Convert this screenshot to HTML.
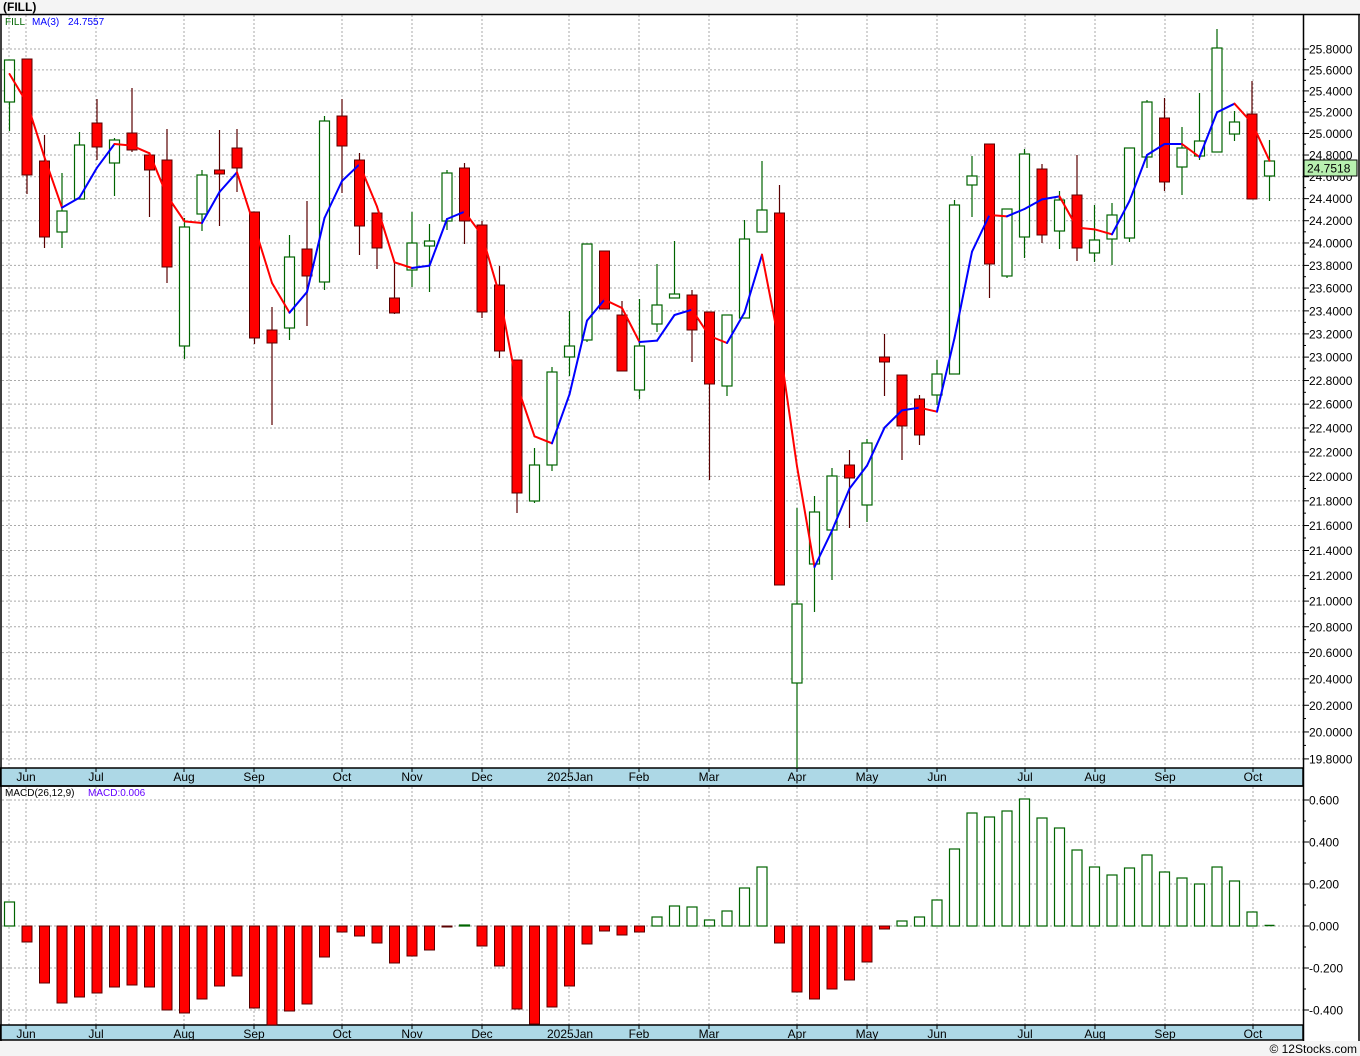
<!DOCTYPE html>
<html><head><meta charset="utf-8"><style>
body{margin:0;background:#f4f4f4;}
svg{display:block;font-family:"Liberation Sans","DejaVu Sans",sans-serif;}
</style></head><body>
<svg id="s" width="1360" height="1056" xmlns="http://www.w3.org/2000/svg"></svg>
<script>
const S=document.getElementById('s');let h='';
// backgrounds
h+='<rect x="0" y="0" width="1360" height="1056" fill="#f4f4f4"/>';
h+='<rect x="0" y="14" width="1360" height="1027" fill="#fff"/>';
h+='<text x="3" y="11" font-size="12" font-weight="bold" fill="#000">(FILL)</text>';
const P=v=>49+2682*Math.log(25.8/v);
// horizontal grid main
for(let k=0;k<=30;k++){const v=19.8+k*0.2;const y=P(v);
 h+=`<line x1="2" x2="1303" y1="${y}" y2="${y}" stroke="#aaa" stroke-dasharray="2,2"/>`;
 h+=`<line x1="1303" x2="1309" y1="${y}" y2="${y}" stroke="#000"/>`;
 if(k<30){const ym=P(v+0.1);h+=`<line x1="1303" x2="1306" y1="${ym}" y2="${ym}" stroke="#000"/>`;}
 h+=`<text x="1309" y="${y+4.5}" font-size="12" fill="#000">${v.toFixed(4)}</text>`;}
// MACD grid
const M=v=>926-v*210;
[0.6,0.4,0.2,0,-0.2,-0.4].forEach(v=>{const y=M(v);
 h+=`<line x1="2" x2="1303" y1="${y}" y2="${y}" stroke="#aaa" stroke-dasharray="2,2"/>`;
 h+=`<line x1="1303" x2="1309" y1="${y}" y2="${y}" stroke="#000"/>`;
 h+=`<text x="1309" y="${y+4.5}" font-size="12" fill="#000">${v<0?'':''}${v.toFixed(3)}</text>`;});
for(let v=-0.5;v<=0.7;v+=0.1){const y=M(v);if(y>788&&y<1024)h+=`<line x1="1303" x2="1306" y1="${y}" y2="${y}" stroke="#000"/>`;}
// vertical grid
const months=[[26,'Jun'],[96,'Jul'],[184,'Aug'],[254,'Sep'],[342,'Oct'],[412,'Nov'],[482,'Dec'],[569,'2025Jan'],[639,'Feb'],[709,'Mar'],[797,'Apr'],[867,'May'],[937,'Jun'],[1025,'Jul'],[1095,'Aug'],[1165,'Sep'],[1253,'Oct']];
[9].concat(months.map(m=>m[0])).forEach(x=>{
 h+=`<line x1="${x}" x2="${x}" y1="15" y2="768" stroke="#aaa" stroke-dasharray="2,2"/>`;
 h+=`<line x1="${x}" x2="${x}" y1="787" y2="1025" stroke="#aaa" stroke-dasharray="2,2"/>`;});
// axis bands
[[768,786],[1025,1040]].forEach(([a,b])=>{
 h+=`<rect x="0" y="${a}" width="1303" height="${b-a}" fill="#add8e6" stroke="#000" stroke-width="1.5"/>`;
 months.forEach(([x,t])=>{h+=`<line x1="${x}" x2="${x}" y1="${a}" y2="${a+4}" stroke="#000"/>`;
  h+=`<text x="${t=='2025Jan'?x-22:x}" y="${a+13}" font-size="12" fill="#000" text-anchor="${t=='2025Jan'?'start':'middle'}">${t}</text>`;});});
// borders
h+='<line x1="0" x2="1360" y1="14.5" y2="14.5" stroke="#000" stroke-width="1.5"/>';
h+='<line x1="1303.5" x2="1303.5" y1="14" y2="1041" stroke="#000" stroke-width="1.5"/>';
h+='<line x1="1" x2="1" y1="14" y2="1041" stroke="#000" stroke-width="1.5"/>';
h+='<line x1="1359" x2="1359" y1="14" y2="1041" stroke="#000" stroke-width="1.5"/>';
// candles [O,C,H,L] pixel y
const C=[[102,60,60,131],[59,175,59,194],[161,237,135,248],[232,211,173,248],[199,145,132,199],[123,147,99,160],[163,140,138,196],[133,150,88,152],[155,170,154,217],[160,267,129,283],
[346,227,218,359],[214,175,170,231],[170,174,130,226],[148,168,129,192],[212,338,212,344],[330,343,307,425],[328,257,235,340],[249,276,201,326],[282,121,116,290],[116,146,99,193],
[160,226,153,255],[213,248,213,269],[298,313,262,314],[270,243,212,287],[246,241,224,292],[221,173,170,230],[168,221,163,244],[225,312,221,318],[285,351,266,358],[360,493,360,513],
[501,465,448,503],[465,372,367,471],[357,346,311,376],[340,244,244,342],[251,309,251,309],[315,371,301,371],[390,346,299,399],[324,305,264,332],[298,294,241,298],[295,330,290,362],
[312,384,312,480],[386,315,315,396],[318,239,220,318],[232,210,161,232],[213,585,185,585],[683,604,508,768],[564,512,496,612],[530,476,468,580],[465,478,450,528],[505,443,439,522],
[357,362,334,396],[375,426,375,460],[399,435,395,445],[395,374,360,405],[374,205,200,374],[185,176,156,217],[144,264,144,298],[276,209,209,278],[237,154,149,258],[169,235,164,243],
[231,200,191,249],[195,248,155,261],[253,240,205,262],[239,215,203,265],[238,148,148,242],[157,102,100,168],[118,182,98,191],[167,148,127,195],[156,141,93,160],[152,48,29,152],
[134,122,111,141],[114,199,81,199],[176,161,140,201]];
const X=i=>9.5+17.5*i;
// MA
const ma=C.map((c,i)=>i==0?74:i==1?103:(C[i][1]+C[i-1][1]+C[i-2][1])/3);
C.forEach((c,i)=>{const x=X(i),[o,cl,hi,lo]=c;const up=cl<o;
 const t=Math.min(o,cl),b=Math.max(o,cl);
 if(up){h+=`<line x1="${x}" x2="${x}" y1="${hi}" y2="${lo}" stroke="#006400" stroke-width="1.2"/>`;
  h+=`<rect x="${x-5}" y="${t}" width="10" height="${Math.max(b-t,1)}" fill="#fff" stroke="#006400" stroke-width="1.2"/>`;}
 else{h+=`<line x1="${x}" x2="${x}" y1="${hi}" y2="${lo}" stroke="#5a0000" stroke-width="1.2"/>`;
  h+=`<rect x="${x-5}" y="${t}" width="10" height="${Math.max(b-t,1)}" fill="#ff0000" stroke="#5a0000" stroke-width="1"/>`;}});
for(let i=1;i<ma.length;i++){const col=ma[i]>ma[i-1]?'#ff0000':'#0000ff';
 h+=`<line x1="${X(i-1)}" y1="${ma[i-1]}" x2="${X(i)}" y2="${ma[i]}" stroke="${col}" stroke-width="2" stroke-linecap="round"/>`;}
// legend
h+='<text x="5" y="25" font-size="10" fill="#006400">FILL</text><text x="32" y="25" font-size="10" fill="#0000ff">MA(3)</text><text x="68" y="25" font-size="10" fill="#0000ff">24.7557</text>';
h+=`<rect x="1304" y="160" width="53" height="16" fill="#b8f0b0" stroke="#000"/><text x="1307" y="172.5" font-size="12" fill="#000">24.7518</text>`;
// MACD bars (top y, zero at 926)
const B=[902,942,983,1003,997,993,987,985,987,1010,1013,999,986,976,1008,1025,1011,1004,957,932,936,943,963,956,950,927,925,946,966,1009,1024,1007,986,944,931,935,932,917,906,907,920,911,888,867,943,992,999,989,980,962,929,921,917,900,849,813,817,811,799,818,828,850,867,875,868,855,872,878,884,867,881,912,926];
B.forEach((y,i)=>{const x=X(i);
 if(y<926){h+=`<rect x="${x-5}" y="${y}" width="10" height="${926-y}" fill="#fff" stroke="#006400" stroke-width="1.2"/>`;}
 else if(y>926){h+=`<rect x="${x-5}" y="926" width="10" height="${y-926}" fill="#ff0000" stroke="#5a0000" stroke-width="1"/>`;}
 else h+=`<line x1="${x-5}" x2="${x+5}" y1="925.5" y2="925.5" stroke="#006400" stroke-width="1.5"/>`;});
h+='<line x1="0" x2="1303" y1="786" y2="786" stroke="#000" stroke-width="1.5"/>';
h+='<text x="5" y="796" font-size="10" fill="#000">MACD(26,12,9)</text><text x="88" y="796" font-size="10" fill="#6600ff">MACD:0.006</text>';
h+='<rect x="0" y="1041" width="1360" height="15" fill="#f4f4f4"/>';
h+='<text x="1357" y="1053" font-size="12" fill="#000" text-anchor="end">© 12Stocks.com</text>';
S.innerHTML=h;
</script>
</body></html>
